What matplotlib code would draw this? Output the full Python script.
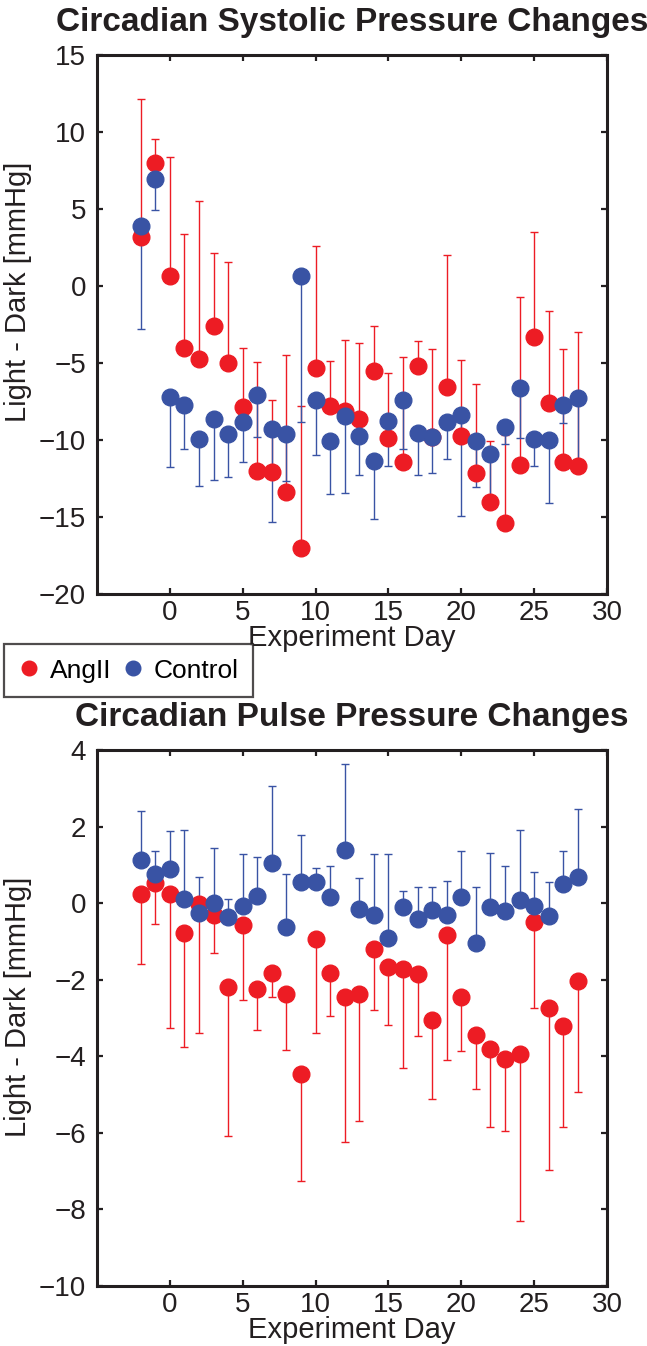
import numpy as np
import matplotlib
matplotlib.use("Agg")
import matplotlib.pyplot as plt
from matplotlib.lines import Line2D

plt.rcParams["font.family"] = ["Liberation Sans", "DejaVu Sans"]

days = list(range(-2, 29))

# Circadian systolic pressure (light - dark), mmHg
sys_angii = [3.16, 7.97, 0.63, -4.0, -4.76, -2.62, -5.02, -7.88, -12.0, -12.08, -13.4,
             -17.0, -5.35, -7.79, -8.1, -8.66, -5.52, -9.85, -11.45, -5.17, -9.8,
             -6.54, -9.74, -12.12, -14.0, -15.37, -11.62, -3.29, -7.62, -11.41, -11.69]
sys_angii_err = [8.98, 1.55, 7.77, 7.4, 10.26, 4.74, 6.58, 3.88, 7.09, 4.68, 8.9,
                 9.2, 7.97, 2.94, 4.6, 4.98, 2.9, 4.22, 6.86, 1.6, 5.69,
                 8.54, 4.93, 5.73, 3.96, 5.72, 10.91, 6.79, 6.02, 7.32, 8.72]
sys_control = [3.9, 6.95, -7.23, -7.73, -9.91, -8.66, -9.61, -8.85, -7.08, -9.26, -9.63,
               0.65, -7.4, -10.09, -8.42, -9.74, -11.36, -8.74, -7.4, -9.57, -9.78,
               -8.81, -8.38, -10.06, -10.91, -9.16, -6.65, -9.96, -10.0, -7.75, -7.3]
sys_control_err = [6.68, 2.04, 4.5, 2.83, 3.06, 3.91, 2.77, 2.58, 2.75, 6.06, 3.05,
                   9.5, 3.59, 3.44, 5.04, 2.51, 3.79, 2.93, 3.16, 2.68, 2.36,
                   2.42, 6.53, 3.01, 2.9, 1.1, 3.2, 1.71, 4.07, 1.12, 4.0]

# Circadian pulse pressure (light - dark), mmHg
pp_angii = [0.23, 0.53, 0.25, -0.79, -0.01, -0.3, -2.18, -0.57, -2.23, -1.82, -2.38,
            -4.46, -0.93, -1.82, -2.46, -2.38, -1.2, -1.66, -1.71, -1.84, -3.04,
            -0.84, -2.45, -3.45, -3.8, -4.06, -3.95, -0.49, -2.75, -3.21, -2.03]
pp_angii_err = [1.83, 1.08, 3.52, 2.97, 3.39, 0.99, 3.89, 1.96, 1.09, 0.62, 1.45,
                2.79, 2.46, 1.13, 3.77, 3.31, 1.58, 1.53, 2.6, 1.62, 2.08,
                3.27, 1.41, 1.4, 2.06, 1.89, 4.35, 2.26, 4.22, 2.65, 2.91]
pp_control = [1.12, 0.77, 0.88, 0.1, -0.27, 0.01, -0.36, -0.08, 0.19, 1.05, -0.62,
              0.56, 0.56, 0.17, 1.4, -0.14, -0.3, -0.91, -0.1, -0.42, -0.18,
              -0.31, 0.15, -1.03, -0.1, -0.2, 0.08, -0.07, -0.33, 0.49, 0.67]
pp_control_err = [1.28, 0.6, 1.01, 1.82, 0.96, 1.42, 0.47, 1.36, 1.02, 2.01, 1.39,
                  1.21, 0.36, 0.8, 2.23, 0.8, 1.59, 2.19, 0.42, 0.85, 0.61,
                  0.88, 1.22, 1.46, 1.42, 1.17, 1.82, 0.89, 0.87, 0.88, 1.78]

RED = "#ED1C24"
BLUE = "#3953A4"
INK = "#231F20"
W, H = 647, 1346


def style_axes(ax, yticks, ylim, title, label_y):
    ax.set_xlim(-5, 30)
    ax.set_ylim(*ylim)
    ax.set_xticks(range(0, 31, 5))
    ax.set_yticks(yticks)
    ax.tick_params(direction="in", length=4.5, width=1.6, top=True, right=True,
                   labelsize=20, pad=4, colors=INK)
    ax.tick_params(axis="y", pad=8)
    for sp in ax.spines.values():
        sp.set_linewidth(2.2)
        sp.set_color(INK)
    ax.set_xlabel("Experiment Day", fontsize=21, labelpad=-1, color=INK)
    ax.set_ylabel("Light - Dark [mmHg]", fontsize=21, color=INK)
    ax.yaxis.set_label_coords(-0.128, label_y)
    ax.set_title(title, fontsize=24, fontweight="bold", color=INK, pad=17)


def draw(ax, red, red_err, blue, blue_err, red_up):
    zeros = np.zeros(len(days))
    red_yerr = [zeros, red_err] if red_up else [red_err, zeros]
    blue_yerr = [blue_err, zeros] if red_up else [zeros, blue_err]
    ax.errorbar(days, red, yerr=red_yerr, fmt="o", color=RED, ms=12,
                elinewidth=1.0, capsize=3.2, capthick=1.0, mec=RED)
    ax.errorbar(days, blue, yerr=blue_yerr, fmt="o", color=BLUE, ms=12,
                elinewidth=1.0, capsize=3.2, capthick=1.0, mec=BLUE)


fig = plt.figure(figsize=(W / 100, H / 100), dpi=100)

ax1 = fig.add_axes([97 / W, 1 - 594 / H, 510 / W, 539 / H])
draw(ax1, sys_angii, sys_angii_err, sys_control, sys_control_err, red_up=True)
style_axes(ax1, range(-20, 16, 5), (-20, 15), "Circadian Systolic Pressure Changes", 0.56)

ax2 = fig.add_axes([97 / W, 1 - 1286 / H, 510 / W, 536 / H])
draw(ax2, pp_angii, pp_angii_err, pp_control, pp_control_err, red_up=False)
style_axes(ax2, range(-10, 5, 2), (-10, 4), "Circadian Pulse Pressure Changes", 0.52)

handles = [Line2D([], [], ls="none", marker="o", ms=10.5, color=RED),
           Line2D([], [], ls="none", marker="o", ms=10.5, color=BLUE)]
leg = fig.legend(handles, ["AngII", "Control"], loc="upper left",
                 bbox_to_anchor=(4 / W, 1 - 644 / H), ncol=2, fontsize=19,
                 frameon=True, fancybox=False, handlelength=0.8, handletextpad=0.4,
                 columnspacing=0.4, borderpad=0.55, borderaxespad=0)
leg.get_frame().set_edgecolor(INK)
leg.get_frame().set_linewidth(1.6)

fig.savefig("out.png", dpi=100)
